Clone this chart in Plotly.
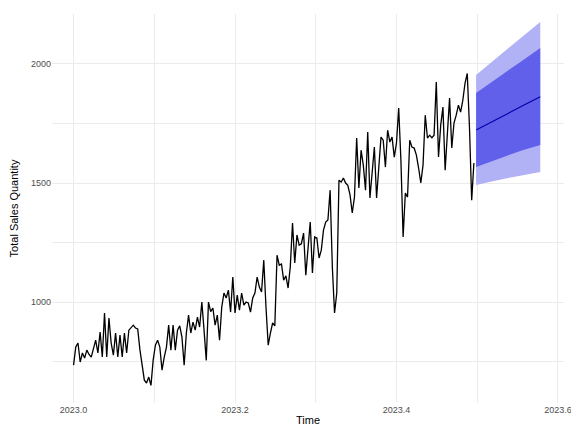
import plotly.graph_objects as go

# Daily total sales quantity, starting 2023-01-01 (time in decimal years, 365 per year)
sales = [
    735, 811, 828, 748, 786, 765, 798, 780, 769, 811, 840, 786, 874, 769, 954, 769,
    933, 828, 777, 870, 769, 861, 769, 870, 786, 882, 891, 903, 891, 887, 800, 740,
    672, 660, 685, 650, 756, 819, 840, 811, 714, 769, 811, 903, 798, 903, 798, 882,
    900, 853, 735, 870, 945, 870, 916, 882, 937, 895, 1000, 882, 755, 1000, 960, 975,
    903, 945, 840, 979, 1038, 1017, 1050, 958, 1105, 954, 1029, 966, 1038, 987, 1000, 996,
    958, 1017, 1038, 1105, 1063, 1042, 1176, 979, 819, 870, 912, 900, 1197, 1155, 1160, 1092,
    1110, 1059, 1150, 1332, 1164, 1282, 1239, 1245, 1290, 1113, 1220, 1336, 1122, 1273, 1269, 1185,
    1218, 1302, 1336, 1345, 1470, 1147, 954, 1038, 1512, 1504, 1521, 1500, 1490, 1450, 1374, 1441,
    1689, 1479, 1638, 1575, 1470, 1714, 1437, 1542, 1651, 1437, 1575, 1693, 1680, 1567, 1722, 1672,
    1693, 1609, 1668, 1815, 1596, 1273, 1458, 1441, 1680, 1651, 1647, 1617, 1563, 1500, 1575, 1785,
    1689, 1701, 1690, 1701, 1924, 1609, 1743, 1819, 1554, 1735, 1857, 1647, 1752, 1785, 1827, 1798,
    1848, 1920, 1960, 1735, 1428, 1584,
]

# Forecast (steps ahead) with 80% and 95% prediction intervals
fc_steps = [1, 8, 15, 22, 30]
fc_mean = [1723, 1755, 1790, 1825, 1862]
fc_lo80 = [1567, 1590, 1615, 1638, 1660]
fc_hi80 = [1878, 1925, 1970, 2015, 2067]
fc_lo95 = [1492, 1506, 1520, 1533, 1546]
fc_hi95 = [1954, 2010, 2062, 2116, 2176]

start_year = 2023
freq = 365
n = len(sales)
t_obs = [start_year + i / freq for i in range(n)]
t_fc = [start_year + (n + h - 1) / freq for h in fc_steps]

fig = go.Figure()

# 95% interval band
fig.add_trace(go.Scatter(
    x=t_fc + t_fc[::-1], y=fc_hi95 + fc_lo95[::-1],
    fill="toself", fillcolor="#B1B1F6", line=dict(width=0),
    mode="lines", hoverinfo="skip", showlegend=False,
))
# 80% interval band
fig.add_trace(go.Scatter(
    x=t_fc + t_fc[::-1], y=fc_hi80 + fc_lo80[::-1],
    fill="toself", fillcolor="#6060EA", line=dict(width=0),
    mode="lines", hoverinfo="skip", showlegend=False,
))
# Point forecast
fig.add_trace(go.Scatter(
    x=t_fc, y=fc_mean, mode="lines",
    line=dict(color="#0000AA", width=1.1), showlegend=False,
))
# Observed series
fig.add_trace(go.Scatter(
    x=t_obs, y=sales, mode="lines",
    line=dict(color="black", width=1.3), showlegend=False,
))

grid = "#EBEBEB"
tick_font = dict(family="Liberation Sans, Arial, sans-serif", size=9, color="#4D4D4D")
title_font = dict(family="Liberation Sans, Arial, sans-serif", size=11, color="black")

fig.update_layout(
    width=571, height=426,
    margin=dict(l=52, r=7, t=14, b=23),
    paper_bgcolor="white", plot_bgcolor="white",
    showlegend=False,
    xaxis=dict(
        range=[2022.9733, 2023.6075],
        tickvals=[2023.0, 2023.2, 2023.4, 2023.6],
        ticktext=["2023.0", "2023.2", "2023.4", "2023.6"],
        ticklabeloverflow="allow",
        showgrid=True, gridcolor=grid, gridwidth=1.1,
        minor=dict(tickvals=[2023.1, 2023.3, 2023.5], showgrid=True,
                   gridcolor=grid, gridwidth=0.6),
        zeroline=False, showline=False, ticks="",
        tickfont=tick_font,
        title=dict(text="Time", font=title_font, standoff=4),
        automargin=False,
    ),
    yaxis=dict(
        range=[576, 2210],
        tickvals=[1000, 1500, 2000],
        ticktext=["1000", "1500", "2000"],
        showgrid=True, gridcolor=grid, gridwidth=1.1,
        minor=dict(tickvals=[750, 1250, 1750], showgrid=True,
                   gridcolor=grid, gridwidth=0.6),
        zeroline=False, showline=False, ticks="",
        tickfont=tick_font,
        title=dict(text="Total Sales Quantity", font=title_font, standoff=10),
        automargin=False,
    ),
)

fig.write_html("out.html")
